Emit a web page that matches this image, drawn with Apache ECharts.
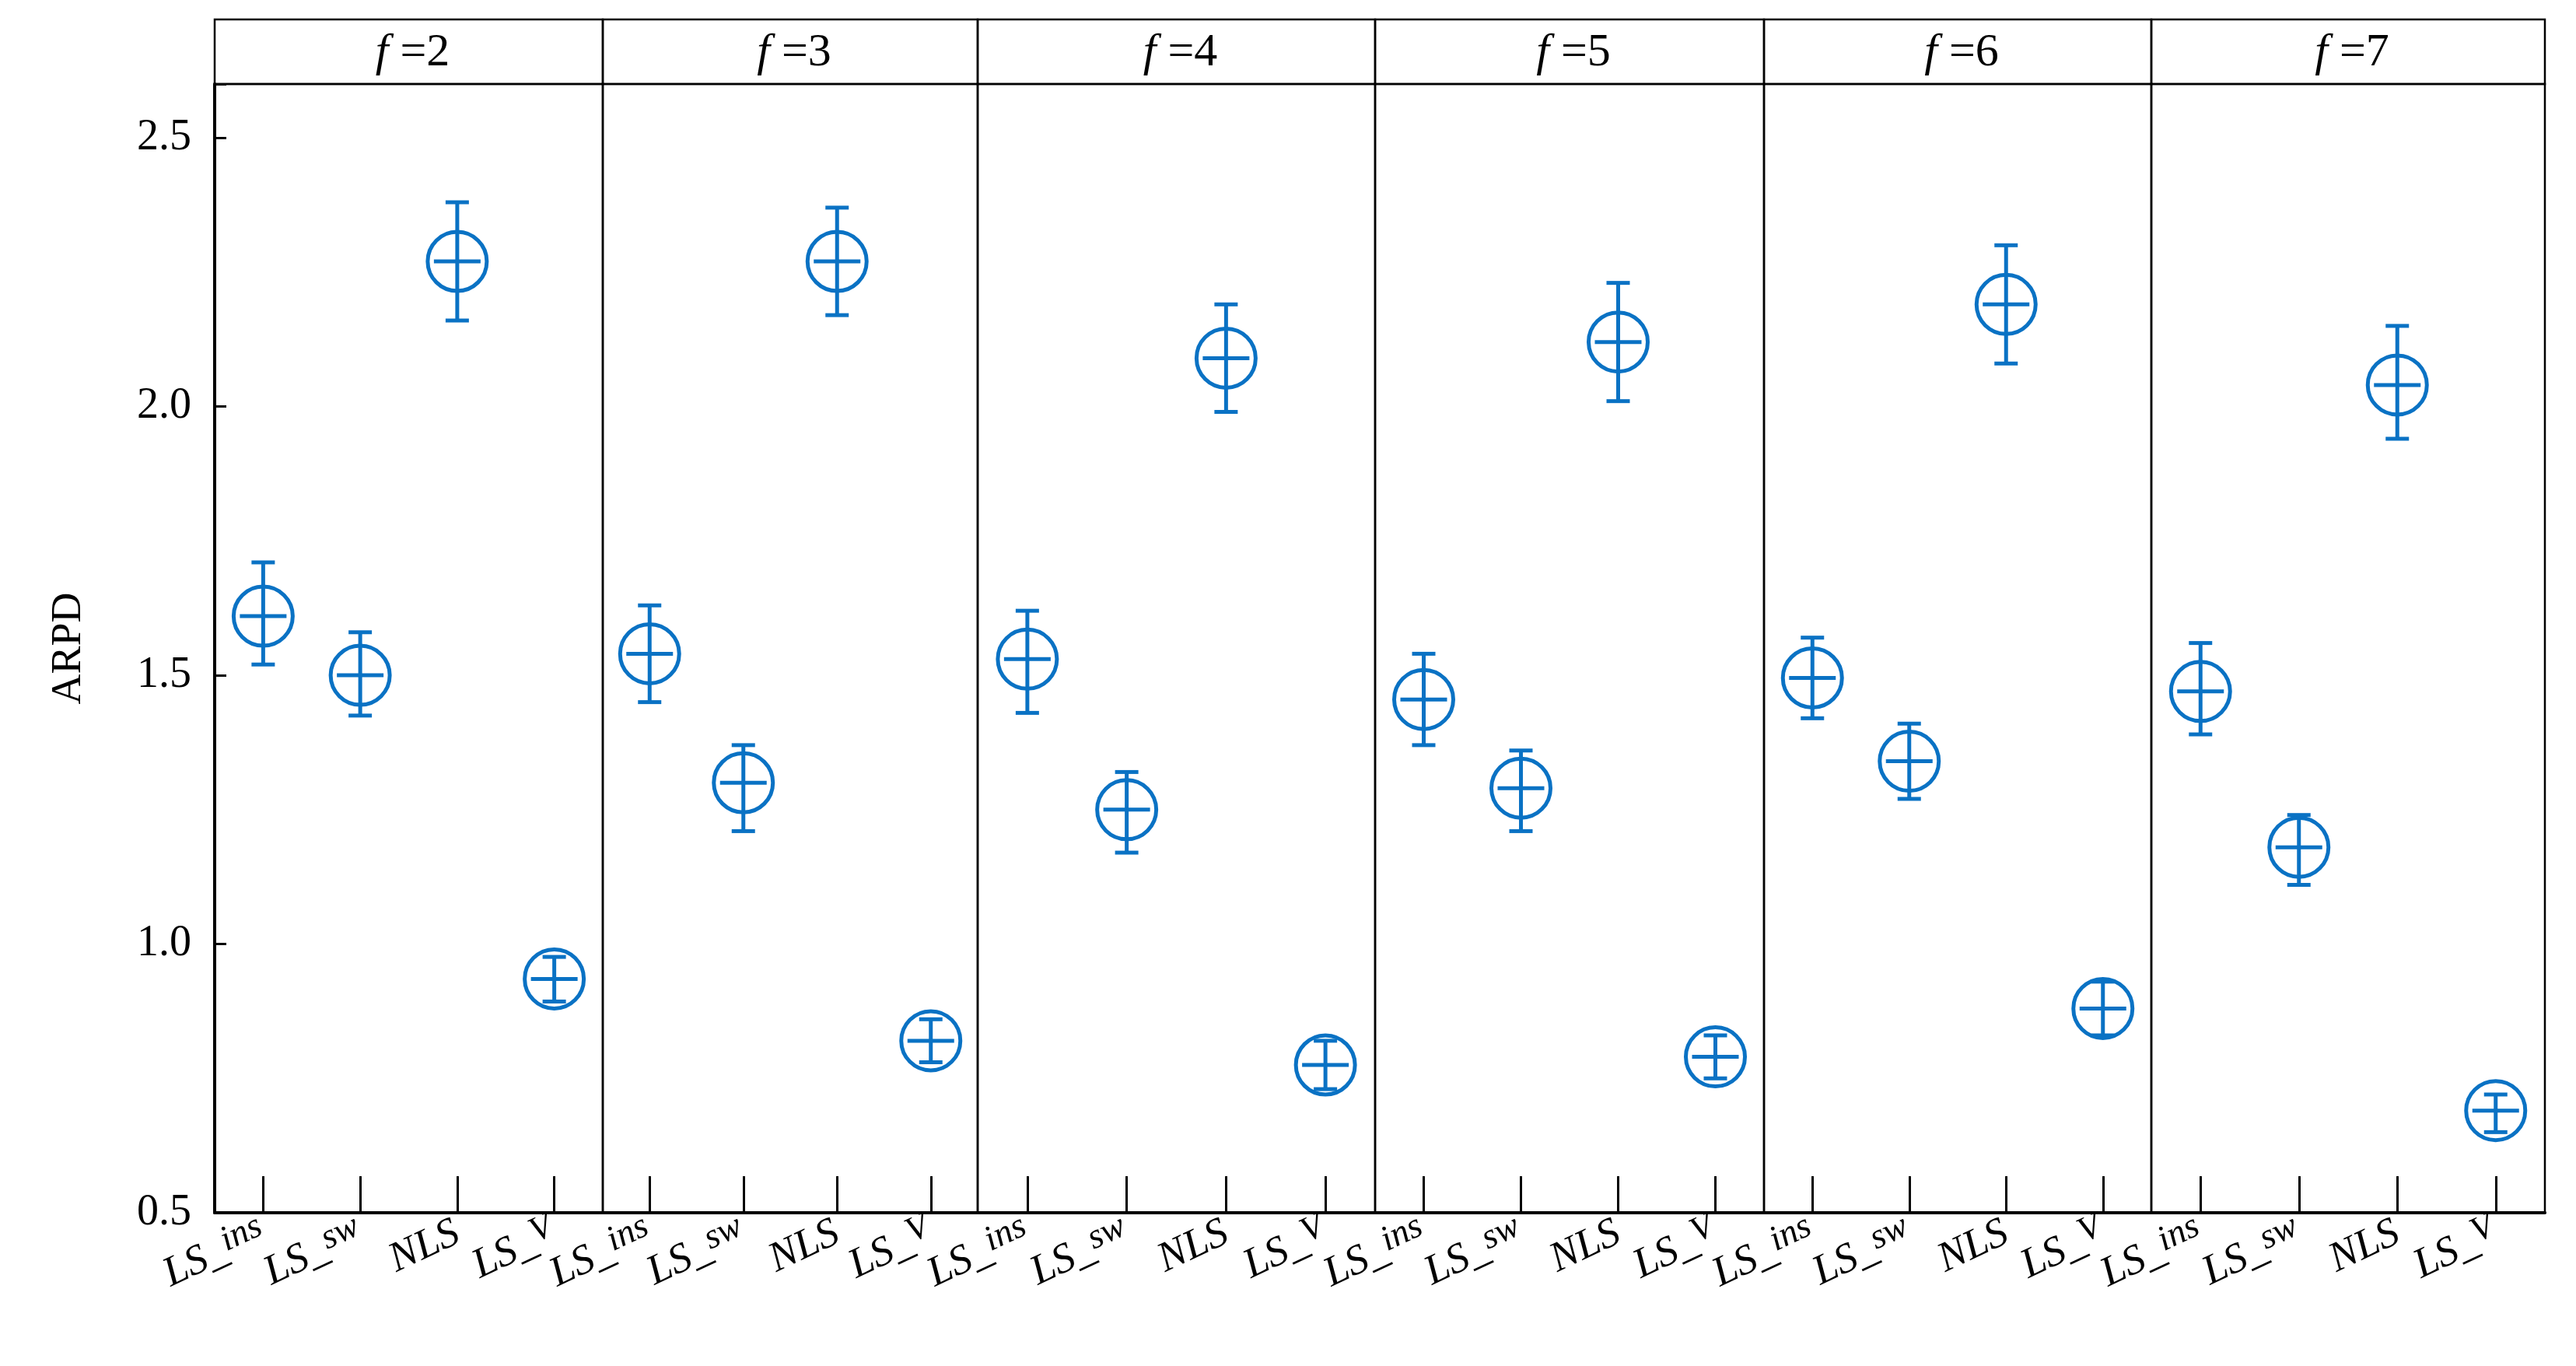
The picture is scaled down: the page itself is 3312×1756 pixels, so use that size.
<!DOCTYPE html>
<html>
<head>
<meta charset="utf-8">
<script src="https://cdn.jsdelivr.net/npm/echarts@6/dist/echarts.min.js"></script>
<style>html,body{margin:0;padding:0;background:#fff}#chart{width:3312px;height:1756px}</style>
</head>
<body>
<div id="chart"></div>
<script>
var panels = ['2', '3', '4', '5', '6', '7'];
var methods = ['LS_ins', 'LS_sw', 'NLS', 'LS_V'];
var yTicks = [0.5, 1.0, 1.5, 2.0, 2.5];
// mean, low, high per panel, in method order
var means = [
    [1.61, 1.50, 2.27, 0.935],
    [1.54, 1.30, 2.27, 0.82],
    [1.53, 1.25, 2.09, 0.775],
    [1.455, 1.29, 2.12, 0.79],
    [1.495, 1.34, 2.19, 0.88],
    [1.47, 1.18, 2.04, 0.69]
];
var lows = [
    [1.52, 1.425, 2.16, 0.893],
    [1.45, 1.21, 2.17, 0.78],
    [1.43, 1.17, 1.99, 0.73],
    [1.37, 1.21, 2.01, 0.75],
    [1.42, 1.27, 2.08, 0.83],
    [1.39, 1.11, 1.94, 0.65]
];
var highs = [
    [1.71, 1.58, 2.38, 0.976],
    [1.63, 1.37, 2.37, 0.86],
    [1.62, 1.32, 2.19, 0.82],
    [1.54, 1.36, 2.23, 0.83],
    [1.57, 1.41, 2.30, 0.93],
    [1.56, 1.24, 2.15, 0.72]
];

var edges = [276, 775, 1257, 1768, 2268, 2766, 3272];
var TOP = 108, BOTTOM = 197, HEAD = 25;
var blue = '#0a72c4';
var font = '"Liberation Serif", "Times New Roman", serif';

var chart = echarts.init(document.getElementById('chart'));
var grids = [], xAxes = [], yAxes = [], series = [], titles = [], graphics = [];

function renderErr(params, api) {
    var x = api.coord([api.value(0), api.value(1)])[0];
    var ym = api.coord([api.value(0), api.value(1)])[1];
    var yl = api.coord([api.value(0), api.value(2)])[1];
    var yh = api.coord([api.value(0), api.value(3)])[1];
    var r = 38, c = 15;
    var st = {stroke: blue, lineWidth: 5, fill: null};
    return {
        type: 'group',
        children: [
            {type: 'line', shape: {x1: x, y1: yl, x2: x, y2: yh}, style: st},
            {type: 'line', shape: {x1: x - c, y1: yl, x2: x + c, y2: yl}, style: st},
            {type: 'line', shape: {x1: x - c, y1: yh, x2: x + c, y2: yh}, style: st},
            {type: 'circle', shape: {cx: x, cy: ym, r: r}, style: {stroke: blue, lineWidth: 5, fill: 'none'}},
            {type: 'line', shape: {x1: x - r + 8, y1: ym, x2: x + r - 8, y2: ym}, style: st}
        ]
    };
}

panels.forEach(function (f, i) {
    var l = edges[i], r = edges[i + 1];
    grids.push({left: l, width: r - l, top: TOP, bottom: BOTTOM, show: true,
        borderColor: '#000', borderWidth: 2.5, backgroundColor: 'transparent'});
    xAxes.push({
        type: 'category', gridIndex: i, data: methods, boundaryGap: true,
        axisLine: {lineStyle: {color: '#000', width: 4}},
        axisTick: {show: true, inside: true, length: 47, alignWithLabel: true, interval: 0,
            lineStyle: {color: '#000', width: 3}},
        axisLabel: {
            interval: 0, rotate: 25, margin: 24, color: '#000',
            formatter: function (v) {
                var p = v.split('_');
                if (p.length === 1) return '{a|' + v + '}';
                return '{a|' + p[0] + '_}{s|' + p[1] + '}';
            },
            rich: {
                a: {fontFamily: font, fontStyle: 'italic', fontSize: 54, color: '#000'},
                s: {fontFamily: font, fontStyle: 'italic', fontSize: 46, color: '#000', padding: [0, 0, 18, 0]}
            }
        }
    });
    yAxes.push({
        type: 'value', gridIndex: i, min: 0.5, max: 2.6, interval: 0.5,
        show: i === 0,
        name: i === 0 ? 'ARPD' : '', nameLocation: 'middle', nameGap: 160, nameRotate: 90,
        nameTextStyle: {fontFamily: font, fontSize: 54, color: '#000'},
        axisLine: {show: true, lineStyle: {color: '#000', width: 4}},
        axisTick: {show: true, inside: true, length: 15, lineStyle: {color: '#000', width: 3}},
        splitLine: {show: false},
        axisLabel: {
            color: '#000', fontFamily: font, fontSize: 56, margin: 30,
            formatter: function (v) { return yTicks.indexOf(v) >= 0 ? v.toFixed(1) : ''; }
        }
    });
    var data = methods.map(function (m, k) { return [k, means[i][k], lows[i][k], highs[i][k]]; });
    series.push({type: 'custom', xAxisIndex: i, yAxisIndex: i, renderItem: renderErr, data: data, clip: false});
    graphics.push({type: 'rect', shape: {x: l, y: HEAD, width: r - l, height: TOP - HEAD},
        style: {fill: 'none', stroke: '#000', lineWidth: 2.5}});
    titles.push({
        text: '{f|f}{e| =' + f + '}',
        left: (l + r) / 2, top: HEAD + 8, textAlign: 'center',
        textStyle: {fontWeight: 'normal', rich: {
            f: {fontFamily: font, fontStyle: 'italic', fontWeight: 'normal', fontSize: 60, color: '#000'},
            e: {fontFamily: font, fontWeight: 'normal', fontSize: 60, color: '#000'}
        }}
    });
});

chart.setOption({
    backgroundColor: '#fff',
    animation: false,
    title: titles,
    grid: grids,
    xAxis: xAxes,
    yAxis: yAxes,
    series: series,
    graphic: graphics
});
</script>
</body>
</html>
